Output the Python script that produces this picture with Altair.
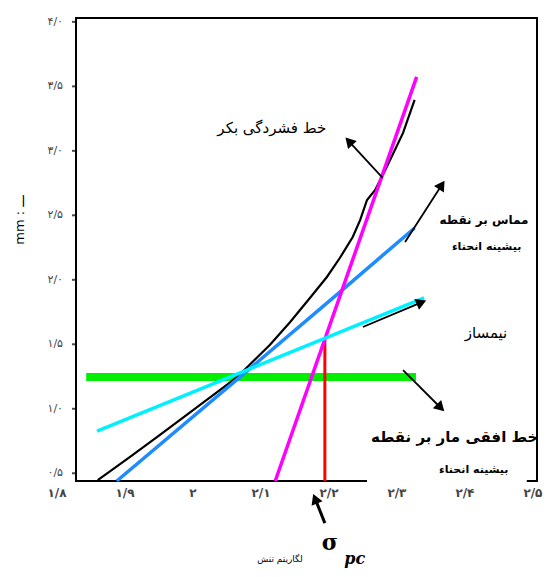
import altair as alt
import pandas as pd

# ---------------- data ----------------
# e - log p curve (black)
black_x = [1.860, 1.907, 1.951, 2.010, 2.065, 2.113, 2.143, 2.172, 2.197, 2.216, 2.235, 2.246, 2.256, 2.268, 2.285, 2.309, 2.326]
black_y = [0.447, 0.625, 0.796, 1.029, 1.246, 1.494, 1.673, 1.859, 2.022, 2.169, 2.332, 2.464, 2.619, 2.697, 2.875, 3.139, 3.395]
# virgin compression line (magenta)
virgin_x = [2.121, 2.329]
virgin_y = [0.44, 3.573]
# tangent at max curvature (blue)
tangent_x = [1.888, 2.069, 2.216, 2.326]
tangent_y = [0.44, 1.246, 1.905, 2.402]
# bisector (cyan)
bisector_x = [1.859, 2.340]
bisector_y = [0.827, 1.859]
# horizontal line (green)
horiz_x = [1.843, 2.328]
horiz_y = [1.246, 1.246]
# preconsolidation pressure (red)
pc_x = [2.194, 2.194]
pc_y = [0.44, 1.533]

# axes ranges and ticks
x_min, x_max = 1.828, 2.506
y_min, y_max = 0.44, 4.03
y_ticks = [0.5, 1.0, 1.5, 2.0, 2.5, 3.0, 3.5, 4.0]
y_tick_labels = ['۰/۵', '۱/۰', '۱/۵', '۲/۰', '۲/۵', '۳/۰', '۳/۵', '۴/۰']
x_ticks = [1.8, 1.9, 2.0, 2.1, 2.2, 2.3, 2.4, 2.5]
x_tick_labels = ['۱/۸', '۱/۹', '۲', '۲/۱', '۲/۲', '۲/۳', '۲/۴', '۲/۵']
y_title = 'mm : ـــ'

# annotation arrows (tail -> head)
arrow_tail_x = [2.279, 2.312, 2.250, 2.309, 2.194]
arrow_tail_y = [2.790, 2.293, 1.634, 1.300, 0.113]
arrow_head_x = [2.2294, 2.3659, 2.336, 2.3643, 2.1797]
arrow_head_y = [3.074, 2.735, 1.825, 1.008, 0.303]
arrow_angle = [317, 33, 67, 135, 338]
arrow_width = [1.8, 1.8, 1.8, 1.8, 3.0]

# annotation texts
normal_text = ['خط فشردگی بکر', 'نیمساز']
normal_x = [2.116, 2.431]
normal_y = [3.178, 1.587]
normal_size = [15, 15]

bold_text = ['مماس بر نقطه', 'بیشینه انحناء', 'خط افقی مار بر نقطه', 'بیشینه انحناء']
bold_x = [2.428, 2.432, 2.385, 2.413]
bold_y = [2.464, 2.254, 0.780, 0.524]
bold_size = [12, 11, 15, 11]

# label box behind the lower annotation
box_x = [2.256]
box_x2 = [2.491]
box_y = [0.37]
box_y2 = [0.91]

sigma_x, sigma_y = [2.2015], [-0.042]
pc_lab_x, pc_lab_y = [2.238], [-0.165]
log_lab_x, log_lab_y = [2.128], [-0.165]

# ---------------- chart ----------------
W, H = 461, 463
xs = alt.Scale(domain=[x_min, x_max], nice=False, zero=False)
ys = alt.Scale(domain=[y_min, y_max], nice=False, zero=False)

def X(f):
    return alt.X(f, scale=xs, axis=None)

def Y(f):
    return alt.Y(f, scale=ys, axis=None)

def line_df(xv, yv):
    return pd.DataFrame({'x': xv, 'y': yv, 'i': list(range(len(xv)))})

# left tick marks and labels
yticks = alt.Chart(pd.DataFrame({'y': y_ticks})).mark_tick(
    color='black', orient='horizontal', size=4, thickness=2).encode(
    y=Y('y:Q'), x=alt.value(-2))
ylabels = alt.Chart(pd.DataFrame({'y': y_ticks, 't': y_tick_labels})).mark_text(
    font='DejaVu Sans', fontSize=11, color='#444', align='right', baseline='middle').encode(
    y=Y('y:Q'), x=alt.value(-13), text='t:N')
ytitle = alt.Chart(pd.DataFrame({'t': [y_title]})).mark_text(
    font='DejaVu Sans', fontSize=13, color='black', angle=270, align='center',
    baseline='middle').encode(x=alt.value(-56), y=alt.value(202), text='t:N')

def plain_line(xv, yv, color, sw):
    return alt.Chart(line_df(xv, yv)).mark_line(color=color, strokeWidth=sw).encode(
        x=X('x:Q'), y=Y('y:Q'), order='i:O')

green = plain_line(horiz_x, horiz_y, '#00ee00', 8)
red = plain_line(pc_x, pc_y, '#ff0000', 3)
black = plain_line(black_x, black_y, 'black', 2.2)
blue = plain_line(tangent_x, tangent_y, '#1e8cff', 3.5)
magenta = plain_line(virgin_x, virgin_y, '#ff00ff', 3.5)
cyan = plain_line(bisector_x, bisector_y, '#00f0ff', 3.5)

box = alt.Chart(pd.DataFrame({'bx': box_x, 'bx2': box_x2, 'by': box_y, 'by2': box_y2})).mark_rect(
    color='white').encode(x=X('bx:Q'), x2='bx2:Q', y=Y('by:Q'), y2='by2:Q')

arr_df = pd.DataFrame({'tx': arrow_tail_x, 'ty': arrow_tail_y, 'hx': arrow_head_x,
                       'hy': arrow_head_y, 'angle': arrow_angle, 'w': arrow_width})
shafts = alt.Chart(arr_df).mark_rule(color='black').encode(
    x=X('tx:Q'), x2='hx:Q', y=Y('ty:Q'), y2='hy:Q',
    strokeWidth=alt.StrokeWidth('w:Q', scale=None))
heads = alt.Chart(arr_df).mark_point(shape='triangle-up', filled=True, color='black',
                                     size=140, opacity=1).encode(
    x=X('hx:Q'), y=Y('hy:Q'), angle=alt.Angle('angle:Q', scale=None))

normal_lab = alt.Chart(pd.DataFrame({'x': normal_x, 'y': normal_y, 't': normal_text,
                                     's': normal_size})).mark_text(
    font='DejaVu Sans', color='black', align='center', baseline='middle').encode(
    x=X('x:Q'), y=Y('y:Q'), text='t:N', size=alt.Size('s:Q', scale=None))

bold_lab = alt.Chart(pd.DataFrame({'x': bold_x, 'y': bold_y, 't': bold_text,
                                   's': bold_size})).mark_text(
    font='DejaVu Sans', fontWeight='bold', color='black', align='center',
    baseline='middle').encode(
    x=X('x:Q'), y=Y('y:Q'), text='t:N', size=alt.Size('s:Q', scale=None))

xlab = alt.Chart(pd.DataFrame({'x': x_ticks, 't': x_tick_labels})).mark_text(
    font='DejaVu Sans', fontSize=12, fontWeight='bold', color='#444',
    align='center', baseline='middle').encode(
    x=X('x:Q'), y=alt.value(H + 12), text='t:N')

sigma = alt.Chart(pd.DataFrame({'x': sigma_x, 'y': sigma_y, 't': ['σ']})).mark_text(
    font='DejaVu Serif', fontSize=22, fontWeight='bold', color='black',
    align='center', baseline='middle').encode(x=X('x:Q'), y=Y('y:Q'), text='t:N')

pc_lab = alt.Chart(pd.DataFrame({'x': pc_lab_x, 'y': pc_lab_y, 't': ['pc']})).mark_text(
    font='DejaVu Serif', fontSize=16, fontWeight='bold', fontStyle='italic', color='black',
    align='center', baseline='middle').encode(x=X('x:Q'), y=Y('y:Q'), text='t:N')

log_lab = alt.Chart(pd.DataFrame({'x': log_lab_x, 'y': log_lab_y, 't': ['لگاریتم تنش']})).mark_text(
    font='DejaVu Sans', fontSize=9, color='black', align='center', baseline='middle').encode(
    x=X('x:Q'), y=Y('y:Q'), text='t:N')

chart = alt.layer(
    yticks, ylabels, ytitle,
    green, red, black, blue, magenta, cyan, box, shafts, heads,
    normal_lab, bold_lab, xlab, sigma, pc_lab, log_lab
).properties(
    width=W, height=H,
    autosize=alt.AutoSizeParams(type='none'),
    padding={'left': 68, 'top': 10, 'right': 10, 'bottom': 88},
    background='white'
).configure_view(stroke='black', strokeWidth=2)

chart.save('out.html', embed_options={'renderer': 'svg', 'actions': False})
